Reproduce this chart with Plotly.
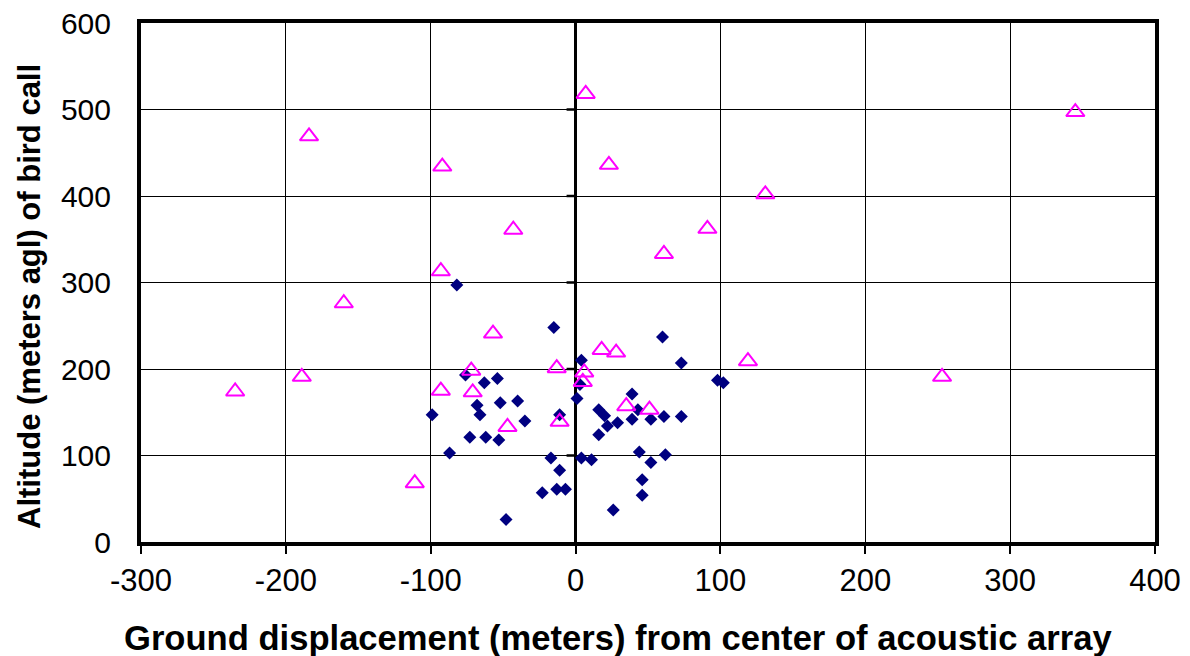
import plotly.graph_objects as go

# Series 1: filled navy diamonds
diamond_x = [-99, -87, -82, -76, -73, -68, -66, -63, -62, -54, -52, -53, -48, -40, -35, -23, -17, -15,
             -13, -11, -11, -7, 1, 4, 3, 4, 11, 16, 20, 22, 16, 29, 26, 39, 39, 43, 44, 46, 46, 52,
             52, 60, 61, 62, 73, 73, 98, 102]
diamond_y = [147, 103, 297, 193, 121, 158, 147, 184, 121, 189, 161, 118, 26, 163, 140, 57, 97, 248,
             61, 147, 83, 61, 166, 97, 182, 210, 95, 153, 146, 134, 124, 138, 37, 171, 142, 153, 104, 72, 54, 142,
             92, 237, 145, 101, 207, 145, 187, 184]

# Series 2: open magenta triangles
tri_x = [-235, -189, -184, -160, -111, -93, -92, -93, -72, -71, -57, -47, -43, -13, -11, 7, 6, 5,
         18, 23, 28, 35, 51, 61, 91, 119, 131, 253, 345]
tri_y = [174, 191, 469, 276, 68, 313, 434, 175, 198, 173, 241, 133, 361, 201, 139, 518, 196, 185,
         222, 436, 219, 157, 153, 333, 362, 209, 402, 191, 497]

x_ticks = [-300, -200, -100, 0, 100, 200, 300, 400]
y_ticks = [0, 100, 200, 300, 400, 500, 600]

x_title = "Ground displacement (meters) from center of acoustic array"
y_title = "Altitude (meters agl) of bird call"

FONT = "Arial, Liberation Sans, sans-serif"

fig = go.Figure()
fig.add_trace(go.Scatter(
    x=diamond_x, y=diamond_y, mode="markers",
    marker=dict(symbol="diamond", size=10, color="#000080", line=dict(width=0)),
    showlegend=False, cliponaxis=False))
fig.add_trace(go.Scatter(
    x=tri_x, y=tri_y, mode="markers",
    marker=dict(symbol="triangle-up-open", size=16, color="#FF00FF", line=dict(width=2, color="#FF00FF")),
    showlegend=False, cliponaxis=False))

# y-axis crossing at x=0: tick marks to the left of the zero line
for v in y_ticks[1:-1]:
    fig.add_shape(type="line", xref="x", yref="y", xsizemode="pixel", xanchor=0,
                  x0=-9, x1=0, y0=v, y1=v, line=dict(color="black", width=2.5), layer="above")

# axis titles
fig.add_annotation(text="<b>" + x_title + "</b>", xref="paper", yref="paper",
                   x=0.4704, y=-0.185, xanchor="center", yanchor="middle", showarrow=False,
                   font=dict(size=34.6, family=FONT, color="black"))
fig.add_annotation(text="<b>" + y_title + "</b>", xref="paper", yref="paper",
                   x=-0.1095, y=0.474, xanchor="center", yanchor="middle", showarrow=False,
                   textangle=-90, font=dict(size=31, family=FONT, color="black"))

# page body has an 8px margin, so the figure is laid out 8px up/left of the target pixels
fig.update_layout(
    width=1182, height=648,
    margin=dict(l=133, r=35, t=15, b=114, autoexpand=False),
    paper_bgcolor="white", plot_bgcolor="white",
    font=dict(family=FONT, color="black", size=31),
    xaxis=dict(
        range=[-300, 400], tickvals=x_ticks, ticktext=[str(v) for v in x_ticks],
        showgrid=True, gridcolor="black", gridwidth=1,
        zeroline=True, zerolinecolor="black", zerolinewidth=2.5,
        showline=True, linecolor="black", linewidth=4, mirror=True,
        ticks="outside", ticklen=8, tickwidth=1.5, tickcolor="black",
        tickfont=dict(size=31, family=FONT), automargin=False, ticklabeloverflow="allow",
    ),
    yaxis=dict(
        range=[0, 600], tickvals=y_ticks, ticktext=[str(v) for v in y_ticks],
        showgrid=True, gridcolor="black", gridwidth=1,
        zeroline=False,
        showline=True, linecolor="black", linewidth=4, mirror=True,
        ticks="", ticklabelstandoff=20,
        tickfont=dict(size=30, family=FONT), automargin=False, ticklabeloverflow="allow",
    ),
)

fig.write_html("out.html")
